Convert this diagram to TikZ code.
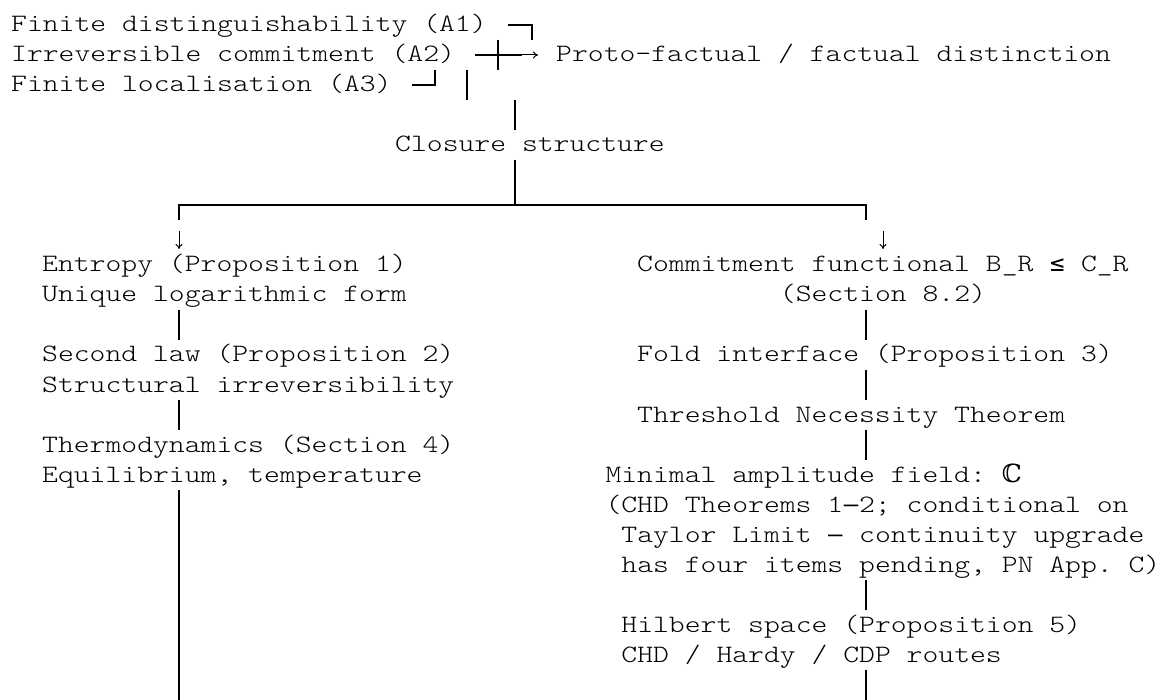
\documentclass[tikz,border=0pt]{standalone}
\usepackage{fontspec}
\setmonofont{lmmonolt10-regular}[Extension=.otf, FakeStretch=1.2076]
\newfontfamily\dsfont{DejaVu Serif}
\newfontfamily\dsmono{DejaVu Sans Mono}
\newcommand{\cellsym}[1]{\makebox[15.85pt]{\dsmono\fontsize{24}{30}\selectfont #1}}
\usetikzlibrary{arrows.meta}

\tikzset{
  txt/.style={anchor=base west, inner sep=0pt, text=black,
    font=\ttfamily\fontsize{25}{30}\selectfont},
  bar/.style={line width=2.6pt},
  tip/.style={line width=1pt, -{To[length=5pt,width=7pt]}}
}

\begin{document}
\begin{tikzpicture}[x=1pt, y=-1pt]
    \useasboundingbox (0,0) rectangle (1159,700);

    % axioms and first merge
    \node[txt] (a1) at (11,32) {Finite distinguishability (A1)};
    \node[txt] (a2) at (11,62) {Irreversible commitment (A2)};
    \node[txt] (a3) at (11,92) {Finite localisation (A3)};
    \node[txt] (pf) at (556,62) {Proto-factual / factual distinction};
    \coordinate (c1a) at (508,25);  \coordinate (c1b) at (532,40);
    \coordinate (c2a) at (475,55);  \coordinate (c2b) at (522,55);
    \coordinate (c2t) at (498,40);  \coordinate (c2u) at (498,70);
    \coordinate (c2e) at (538,55);
    \coordinate (c3a) at (412,85);  \coordinate (c3b) at (435,70);
    \coordinate (c3t) at (467,70);  \coordinate (c3u) at (467,100);
    \draw[bar] (c1a) -| (c1b);
    \draw[bar] (c2a) -- (c2b);
    \draw[bar] (c2t) -- (c2u);
    \draw[tip] (c2b) -- (c2e);
    \draw[bar] (c3a) -| (c3b);
    \draw[bar] (c3t) -- (c3u);

    % closure and split
    \node[txt] (cs) at (395,152) {Closure structure};
    \coordinate (s0) at (515,100);  \coordinate (s1) at (515,130);
    \coordinate (s2) at (515,160);  \coordinate (s3) at (515,205);
    \coordinate (bl) at (179,220);  \coordinate (br) at (866,220);
    \draw[bar] (s0) -- (s1);
    \draw[bar] (s2) -- (s3);
    \draw[bar] (bl) |- (s3) -| (br);
    \coordinate (dl1) at (179,231); \coordinate (dl2) at (179,249);
    \coordinate (dr1) at (883,231); \coordinate (dr2) at (883,249);
    \draw[tip] (dl1) -- (dl2);
    \draw[tip] (dr1) -- (dr2);

    % left branch
    \node[txt] (ent)  at (42,272) {Entropy (Proposition 1)};
    \node[txt] (log)  at (42,302) {Unique logarithmic form};
    \node[txt] (sec)  at (42,362) {Second law (Proposition 2)};
    \node[txt] (irr)  at (42,392) {Structural irreversibility};
    \node[txt] (thd)  at (42,452) {Thermodynamics (Section 4)};
    \node[txt] (equ)  at (42,482) {Equilibrium, temperature};
    \coordinate (l1a) at (179,310); \coordinate (l1b) at (179,340);
    \coordinate (l2a) at (179,400); \coordinate (l2b) at (179,430);
    \coordinate (l3a) at (179,490); \coordinate (l3b) at (179,700);
    \draw[bar] (l1a) -- (l1b);
    \draw[bar] (l2a) -- (l2b);
    \draw[bar] (l3a) -- (l3b);

    % right branch
    \node[txt] (com)  at (637,272) {Commitment functional B\_R \cellsym{≤} C\_R};
    \node[txt] (s82)  at (779.7,302) {(Section 8.2)};
    \node[txt] (fold) at (637,362) {Fold interface (Proposition 3)};
    \node[txt] (thr)  at (637,422) {Threshold Necessity Theorem};
    \node[txt] (amp)  at (605.3,482) {Minimal amplitude field: {\dsfont ℂ}};
    \node[txt] (chd)  at (605.3,512) {(CHD Theorems 1\cellsym{–}2; conditional on};
    \node[txt] (tay)  at (621.2,542) {Taylor Limit \cellsym{—} continuity upgrade};
    \node[txt] (pend) at (621.2,572) {has four items pending, PN App. C)};
    \node[txt] (hil)  at (621.2,632) {Hilbert space (Proposition 5)};
    \node[txt] (rts)  at (621.2,662) {CHD / Hardy / CDP routes};
    \coordinate (r1a) at (866,310); \coordinate (r1b) at (866,340);
    \coordinate (r2a) at (866,370); \coordinate (r2b) at (866,400);
    \coordinate (r3a) at (866,430); \coordinate (r3b) at (866,460);
    \coordinate (r4a) at (866,580); \coordinate (r4b) at (866,610);
    \coordinate (r5a) at (866,670); \coordinate (r5b) at (866,700);
    \draw[bar] (r1a) -- (r1b);
    \draw[bar] (r2a) -- (r2b);
    \draw[bar] (r3a) -- (r3b);
    \draw[bar] (r4a) -- (r4b);
    \draw[bar] (r5a) -- (r5b);
\end{tikzpicture}
\end{document}
